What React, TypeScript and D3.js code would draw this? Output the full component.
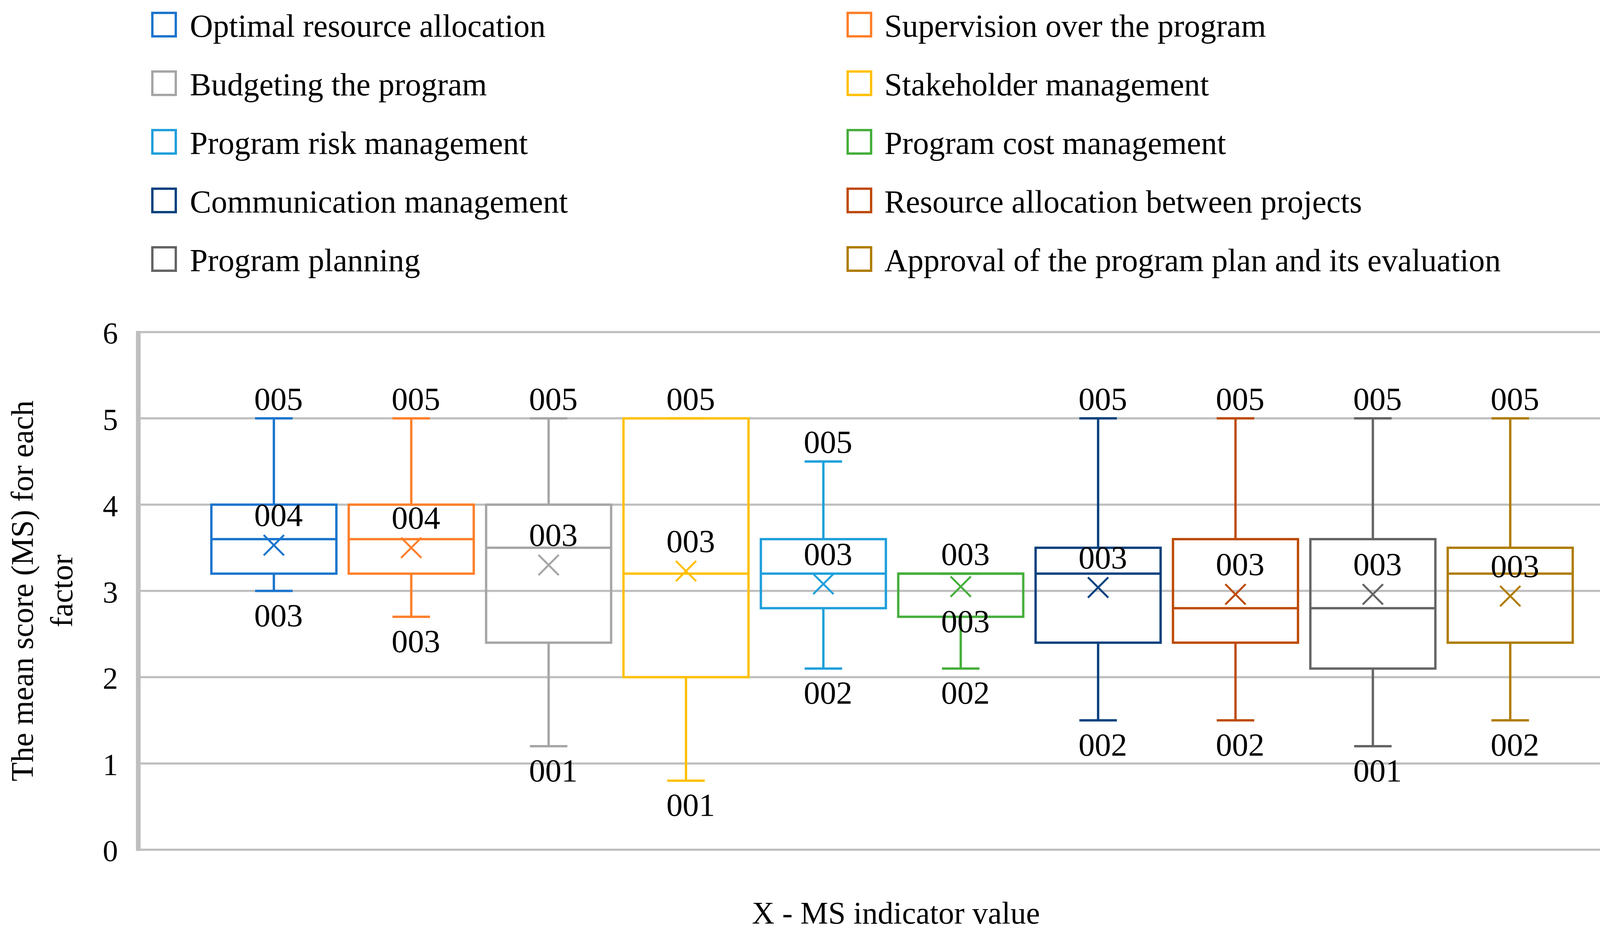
import React from "react";
import * as d3 from "d3";

const series = [
  "Optimal resource allocation",
  "Supervision over the program",
  "Budgeting the program",
  "Stakeholder management",
  "Program risk management",
  "Program cost management",
  "Communication management",
  "Resource allocation between projects",
  "Program planning",
  "Approval of the program plan and its evaluation",
];
const colors = [
  "#1B75CD",
  "#FF7F2A",
  "#A6A6A6",
  "#FFC000",
  "#1F9FDB",
  "#45AE3B",
  "#07417E",
  "#BE4B06",
  "#646464",
  "#AF7C00",
];
const maxV = [5, 5, 5, 5, 4.5, 3.2, 5, 5, 5, 5];
const q3V = [4.0, 4.0, 4.0, 5.0, 3.6, 3.2, 3.5, 3.6, 3.6, 3.5];
const medV = [3.6, 3.6, 3.5, 3.2, 3.2, 3.2, 3.2, 2.8, 2.8, 3.2];
const q1V = [3.2, 3.2, 2.4, 2.0, 2.8, 2.7, 2.4, 2.4, 2.1, 2.4];
const minV = [3.0, 2.7, 1.2, 0.8, 2.1, 2.1, 1.5, 1.5, 1.2, 1.5];
const meanV = [3.53, 3.5, 3.3, 3.23, 3.08, 3.05, 3.04, 2.96, 2.96, 2.94];
// extra data label seen on the chart (series index, value)
const extraLabels = [{ s: 5, v: 2.7 }];
const yTicks = [0, 1, 2, 3, 4, 5, 6];
const yTitle = ["The mean score (MS) for each", "factor"];
const xTitle = "X - MS indicator value";

const W = 4284;
const H = 2383;
const FONT = "'Liberation Serif', 'Times New Roman', serif";

export default function App() {
  const left = 354;
  const right = 4233;
  const y = d3.scaleLinear().domain([0, 6]).range([2175, 850]);
  const x = d3
    .scaleBand<string>()
    .domain(series)
    .range([left, right])
    .paddingInner(0.09)
    .paddingOuter(0.56)
    .align(0.475);
  const bw = x.bandwidth();
  const fmt = (v: number) => d3.format("03d")(Math.round(v));
  const capHalf = bw * 0.15;
  const mk = 26;

  return (
    <svg
      width={W}
      height={H}
      viewBox={`0 0 ${W} ${H}`}
      style={{ position: "absolute", left: 0, top: 0, background: "#fff" }}
      fontFamily={FONT}
    >
      <rect x={0} y={0} width={W} height={H} fill="#fff" />
      {/* legend */}
      {series.map((s, i) => {
        const col = i % 2;
        const row = Math.floor(i / 2);
        const bx = col === 0 ? 390 : 2170;
        const tx = col === 0 ? 486 : 2264;
        const base = 94 + row * 150;
        return (
          <g key={"lg" + i}>
            <rect
              x={bx}
              y={base - 61}
              width={60}
              height={60}
              fill="none"
              stroke={colors[i]}
              strokeWidth={6}
            />
            <text x={tx} y={base} fontSize={82} fill="#000">
              {s}
            </text>
          </g>
        );
      })}

      {/* gridlines */}
      {yTicks.map((t) => (
        <line
          key={"g" + t}
          x1={left}
          x2={right}
          y1={y(t)}
          y2={y(t)}
          stroke="#BFBFBF"
          strokeWidth={5.5}
        />
      ))}
      {/* left axis */}
      <line
        x1={left}
        x2={left}
        y1={y(6) - 3}
        y2={y(0) + 3}
        stroke="#BFBFBF"
        strokeWidth={12}
      />
      {/* tick labels */}
      {yTicks.map((t) => (
        <text
          key={"t" + t}
          x={302}
          y={y(t) + 29}
          fontSize={78}
          textAnchor="end"
          fill="#000"
        >
          {t}
        </text>
      ))}

      {/* boxes */}
      {series.map((s, i) => {
        const x0 = x(s) as number;
        const cx = x0 + bw / 2;
        const c = colors[i];
        const sw = 6;
        return (
          <g key={"b" + i} stroke={c} strokeWidth={sw} fill="none">
            <line x1={cx} x2={cx} y1={y(q3V[i])} y2={y(maxV[i])} />
            <line x1={cx} x2={cx} y1={y(q1V[i])} y2={y(minV[i])} />
            <line x1={cx - capHalf} x2={cx + capHalf} y1={y(maxV[i])} y2={y(maxV[i])} />
            <line x1={cx - capHalf} x2={cx + capHalf} y1={y(minV[i])} y2={y(minV[i])} />
            <rect
              x={x0}
              y={y(q3V[i])}
              width={bw}
              height={y(q1V[i]) - y(q3V[i])}
            />
            <line x1={x0} x2={x0 + bw} y1={y(medV[i])} y2={y(medV[i])} />
            <g strokeWidth={5}>
              <line
                x1={cx - mk}
                x2={cx + mk}
                y1={y(meanV[i]) - mk}
                y2={y(meanV[i]) + mk}
              />
              <line
                x1={cx - mk}
                x2={cx + mk}
                y1={y(meanV[i]) + mk}
                y2={y(meanV[i]) - mk}
              />
            </g>
          </g>
        );
      })}

      {/* data labels */}
      {series.map((s, i) => {
        const cx = (x(s) as number) + bw / 2 + 12;
        const maxY = y(maxV[i]) - 22;
        const meanY = y(meanV[i]) - 49;
        const minY = y(minV[i]) + 90;
        const showMean = !(
          Math.abs(maxY - meanY) < 12 && fmt(maxV[i]) === fmt(meanV[i])
        );
        return (
          <g key={"l" + i} fontSize={83} textAnchor="middle" fill="#000">
            <text x={cx} y={maxY}>
              {fmt(maxV[i])}
            </text>
            {showMean && (
              <text x={cx} y={meanY}>
                {fmt(meanV[i])}
              </text>
            )}
            <text x={cx} y={minY}>
              {fmt(minV[i])}
            </text>
          </g>
        );
      })}
      {extraLabels.map((e, k) => (
        <text
          key={"e" + k}
          x={(x(series[e.s]) as number) + bw / 2 + 12}
          y={y(e.v) + 39}
          fontSize={83}
          textAnchor="middle"
          fill="#000"
        >
          {fmt(e.v)}
        </text>
      ))}

      {/* axis titles */}
      {yTitle.map((t, k) => (
        <text
          key={"yt" + k}
          transform={`translate(${84 + k * 101}, ${(y(0) + y(6)) / 2}) rotate(-90)`}
          fontSize={80}
          textAnchor="middle"
          fill="#000"
        >
          {t}
        </text>
      ))}
      <text
        x={(left + right) / 2}
        y={2364}
        fontSize={80}
        textAnchor="middle"
        fill="#000"
      >
        {xTitle}
      </text>
    </svg>
  );
}
